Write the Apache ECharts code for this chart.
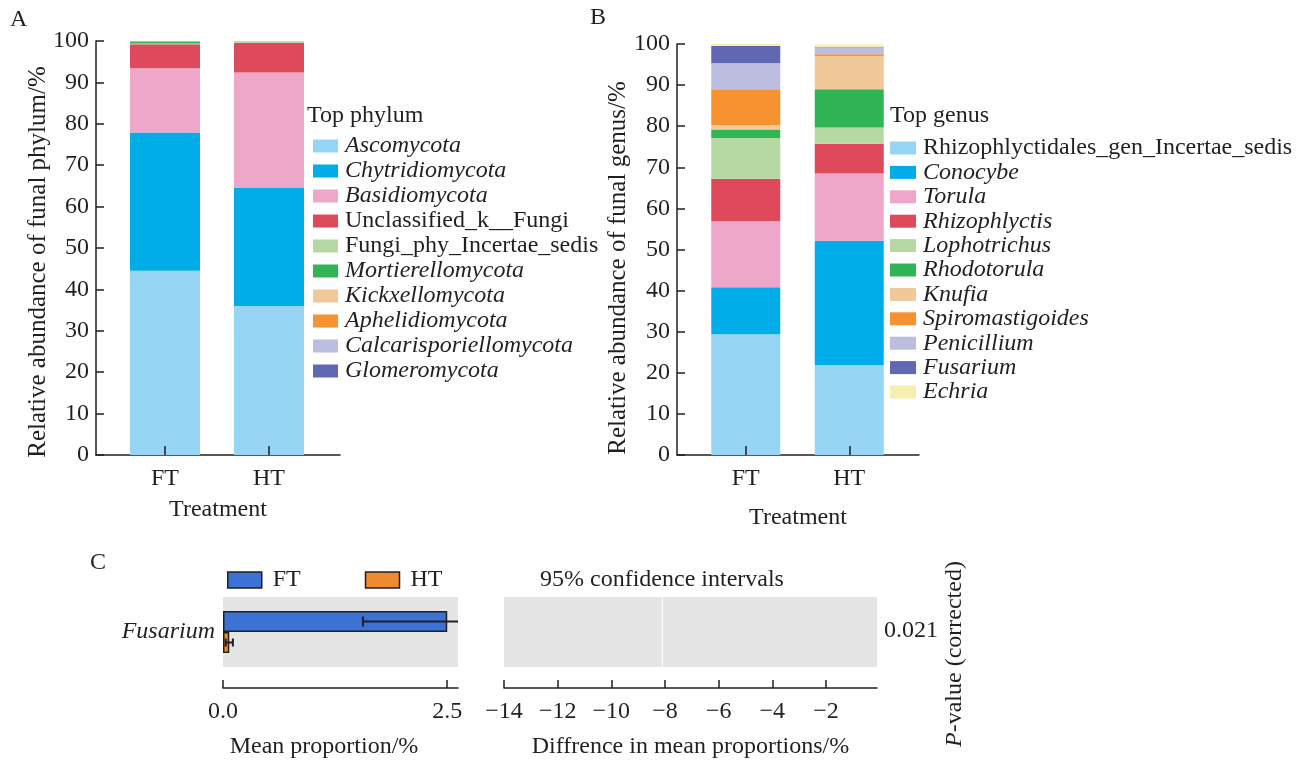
<!DOCTYPE html>
<html>
<head>
<meta charset="utf-8">
<script src="https://cdn.jsdelivr.net/npm/echarts@6/dist/echarts.min.js"></script>
<style>
  html, body { margin: 0; padding: 0; background: #fff; }
  #chart { width: 1307px; height: 762px; }
</style>
</head>
<body>
<div id="chart"></div>
<script>
// ---- data ----
const treatments = ['FT', 'HT'];

const phylumNames = ['Ascomycota', 'Chytridiomycota', 'Basidiomycota', 'Unclassified_k__Fungi',
  'Fungi_phy_Incertae_sedis', 'Mortierellomycota', 'Kickxellomycota', 'Aphelidiomycota',
  'Calcarisporiellomycota', 'Glomeromycota'];
// relative abundance (%) per phylum, [FT, HT]
const phylumAscomycota = [44.5, 36.0];
const phylumChytridiomycota = [33.4, 28.6];
const phylumBasidiomycota = [15.5, 27.8];
const phylumUnclassified = [5.8, 7.2];
const phylumFungiPhyIncertae = [0.2, 0.3];
const phylumMortierellomycota = [0.5, 0.05];
const phylumKickxellomycota = [0.05, 0.03];
const phylumAphelidiomycota = [0.02, 0.01];
const phylumCalcarisporiellomycota = [0.01, 0.01];
const phylumGlomeromycota = [0.01, 0.01];

const genusNames = ['Rhizophlyctidales_gen_Incertae_sedis', 'Conocybe', 'Torula', 'Rhizophlyctis',
  'Lophotrichus', 'Rhodotorula', 'Knufia', 'Spiromastigoides', 'Penicillium', 'Fusarium', 'Echria'];
// relative abundance (%) per genus, [FT, HT]
const genusRhizophlyctidales = [29.4, 21.9];
const genusConocybe = [11.4, 30.2];
const genusTorula = [16.1, 16.4];
const genusRhizophlyctis = [10.3, 7.2];
const genusLophotrichus = [9.9, 4.0];
const genusRhodotorula = [2.1, 9.3];
const genusKnufia = [1.1, 8.0];
const genusSpiromastigoides = [8.7, 0.5];
const genusPenicillium = [6.3, 1.7];
const genusFusarium = [4.2, 0.05];
const genusEchria = [0.5, 0.6];

const plainNames = ['Unclassified_k__Fungi', 'Fungi_phy_Incertae_sedis', 'Rhizophlyctidales_gen_Incertae_sedis'];

// differential genus test
const testGenus = ['Fusarium'];
const meanProportion = [2.5, 0.07];      // FT, HT
const meanErrLow = [1.56, 0.03];
const meanErrHigh = [3.44, 0.11];
const ciMarker = [-8.1];
const pValue = '0.021';
const abundanceTicks = [0, 10, 20, 30, 40, 50, 60, 70, 80, 90, 100];
const meanTicks = [0, 2.5];
const diffTicks = [-14, -12, -10, -8, -6, -4, -2];

// ---- styling ----
const FONT = '"Liberation Serif", "Times New Roman", serif';
const FS = 24;
const INK = '#231f20';
const phylumColors = ['#97d5f5', '#00ade8', '#eea6c9', '#de4a5c', '#b6d8a2', '#30b455', '#f0c899', '#f69330', '#bdbde0', '#6068b3'];
const genusColors = ['#97d5f5', '#00ade8', '#eea6c9', '#de4a5c', '#b6d8a2', '#30b455', '#f0c899', '#f69330', '#bdbde0', '#6068b3', '#f8eeb0'];
const phylumData = [phylumAscomycota, phylumChytridiomycota, phylumBasidiomycota, phylumUnclassified,
  phylumFungiPhyIncertae, phylumMortierellomycota, phylumKickxellomycota, phylumAphelidiomycota,
  phylumCalcarisporiellomycota, phylumGlomeromycota];
const genusData = [genusRhizophlyctidales, genusConocybe, genusTorula, genusRhizophlyctis, genusLophotrichus,
  genusRhodotorula, genusKnufia, genusSpiromastigoides, genusPenicillium, genusFusarium, genusEchria];

const txt = { fontFamily: FONT, fontSize: FS, color: INK };
const legendRich = {
  i: { fontFamily: FONT, fontSize: FS, fontStyle: 'italic', color: INK },
  n: { fontFamily: FONT, fontSize: FS, color: INK }
};
const legendFmt = name => (plainNames.includes(name) ? '{n|' + name + '}' : '{i|' + name + '}');

function frameX(grid, nameGap) {
  return {
    gridIndex: grid, type: 'value', min: 0, max: 1,
    axisLine: { show: true, lineStyle: { color: INK, width: 1.5 } },
    axisTick: { show: false }, axisLabel: { show: false }, splitLine: { show: false },
    name: 'Treatment', nameLocation: 'middle', nameGap: nameGap, nameTextStyle: txt
  };
}
function frameY(grid) {
  return {
    gridIndex: grid, type: 'value', min: 0, max: 100, interval: 10,
    axisLine: { show: true, lineStyle: { color: INK, width: 1.5 } },
    axisTick: { show: true, inside: true, length: 8, lineStyle: { color: INK, width: 1.5 },
      customValues: abundanceTicks },
    axisLabel: Object.assign({ margin: 7, customValues: abundanceTicks }, txt),
    splitLine: { show: false }
  };
}
function barX(grid) {
  return {
    gridIndex: grid, type: 'category', data: treatments, z: 5,
    axisLine: { show: false },
    axisTick: { show: true, inside: true, alignWithLabel: true, length: 9, lineStyle: { color: INK, width: 1.5 } },
    axisLabel: Object.assign({ margin: 12 }, txt)
  };
}
function hiddenY(grid) {
  return { gridIndex: grid, type: 'value', min: 0, max: 100, show: false };
}

const series = [];
phylumNames.forEach((name, k) => {
  series.push({
    name: name, type: 'bar', stack: 'phylum', xAxisIndex: 1, yAxisIndex: 1, barWidth: 70,
    itemStyle: { color: phylumColors[k] }, data: phylumData[k]
  });
});
genusNames.forEach((name, k) => {
  series.push({
    name: name, type: 'bar', stack: 'genus', xAxisIndex: 3, yAxisIndex: 3, barWidth: 69,
    itemStyle: { color: genusColors[k] }, data: genusData[k]
  });
});

const groupColors = ['#3b72d3', '#f08a30'];
treatments.forEach((g, k) => {
  series.push({
    name: g, type: 'bar', xAxisIndex: 4, yAxisIndex: 4, barWidth: 21, barGap: '0%',
    itemStyle: { color: groupColors[k], borderColor: INK, borderWidth: 1.5 },
    data: [meanProportion[k]]
  });
});

// horizontal error whiskers, one per group, clipped to the plot area
treatments.forEach((g, k) => {
  const shift = k === 0 ? -10.5 : 10.5;
  const cap = k === 0 ? 5 : 4;
  series.push({
    type: 'custom', xAxisIndex: 4, yAxisIndex: 4, z: 10,
    encode: { x: [0, 1], y: 2 },
    data: [[meanErrLow[k], meanErrHigh[k], 0]],
    renderItem: (params, api) => {
      const cs = params.coordSys;
      const y = api.coord([0, api.value(2)])[1] + shift;
      const xl = api.coord([api.value(0), 0])[0];
      const xr = api.coord([api.value(1), 0])[0];
      const right = cs.x + cs.width;
      const st = { stroke: INK, lineWidth: 2 };
      const kids = [{ type: 'line', shape: { x1: xl, y1: y, x2: Math.min(xr, right), y2: y }, style: st }];
      kids.push({ type: 'line', shape: { x1: xl, y1: y - cap, x2: xl, y2: y + cap }, style: st });
      if (xr <= right) kids.push({ type: 'line', shape: { x1: xr, y1: y - cap, x2: xr, y2: y + cap }, style: st });
      return { type: 'group', children: kids };
    }
  });
});

// vertical marker inside the confidence-interval panel
series.push({
  type: 'custom', xAxisIndex: 5, yAxisIndex: 5,
  encode: { x: 0 },
  data: ciMarker.map(v => [v]),
  renderItem: (params, api) => {
    const cs = params.coordSys;
    const x = api.coord([api.value(0), 0])[0];
    return { type: 'line', shape: { x1: x, y1: cs.y, x2: x, y2: cs.y + cs.height },
      style: { stroke: '#ffffff', lineWidth: 1 } };
  }
});

const minusFmt = v => String(v).replace('-', '\u2212');
const plainFont = FS + 'px ' + FONT;

const option = {
  animation: false,
  backgroundColor: '#ffffff',
  grid: [
    { left: 96, top: 41, width: 244, height: 414 },
    { left: 113, top: 41, width: 208, height: 414 },
    { left: 677, top: 44, width: 242, height: 411 },
    { left: 694, top: 44, width: 207, height: 411 },
    { left: 223, top: 597, width: 235, height: 70, show: true, backgroundColor: '#e5e5e5', borderWidth: 0 },
    { left: 504, top: 597, width: 373, height: 70, show: true, backgroundColor: '#e5e5e5', borderWidth: 0 }
  ],
  xAxis: [
    frameX(0, 43),
    barX(1),
    frameX(2, 51),
    barX(3),
    {
      gridIndex: 4, type: 'value', min: 0, max: 2.62, offset: 21,
      axisLine: { show: true, lineStyle: { color: INK, width: 1.5 } },
      axisTick: { show: true, inside: true, length: 8, lineStyle: { color: INK, width: 1.5 }, customValues: meanTicks },
      axisLabel: Object.assign({ margin: 12, customValues: meanTicks, formatter: v => v.toFixed(1) }, txt),
      splitLine: { show: false }
    },
    {
      gridIndex: 5, type: 'value', min: -14, max: -0.1, offset: 21,
      axisLine: { show: true, lineStyle: { color: INK, width: 1.5 } },
      axisTick: { show: true, inside: true, length: 8, lineStyle: { color: INK, width: 1.5 }, customValues: diffTicks },
      axisLabel: Object.assign({ margin: 12, customValues: diffTicks, formatter: minusFmt }, txt),
      splitLine: { show: false },
      name: 'Diffrence in mean proportions/%', nameLocation: 'middle', nameGap: 47, nameTextStyle: txt
    }
  ],
  yAxis: [
    frameY(0),
    hiddenY(1),
    frameY(2),
    hiddenY(3),
    {
      gridIndex: 4, type: 'category', data: testGenus,
      axisLine: { show: false }, axisTick: { show: false },
      axisLabel: Object.assign({ margin: 8, fontStyle: 'italic' }, txt)
    },
    { gridIndex: 5, type: 'category', data: testGenus, show: false }
  ],
  legend: [
    {
      data: phylumNames, orient: 'vertical', left: 313, top: 134, padding: 0,
      itemWidth: 25, itemHeight: 13, itemGap: 1, icon: 'rect', selectedMode: false,
      formatter: legendFmt, textStyle: { fontFamily: FONT, fontSize: FS, color: INK, rich: legendRich, padding: [0, 0, 0, 2] }
    },
    {
      data: genusNames, orient: 'vertical', left: 890, top: 136, padding: 0,
      itemWidth: 26, itemHeight: 13, itemGap: 0.4, icon: 'rect', selectedMode: false,
      formatter: legendFmt, textStyle: { fontFamily: FONT, fontSize: FS, color: INK, rich: legendRich, padding: [0, 0, 0, 2] }
    },
    {
      data: treatments, orient: 'horizontal', left: 227, top: 568, padding: 0,
      itemWidth: 34, itemHeight: 16, itemGap: 64, icon: 'rect', selectedMode: false,
      itemStyle: { borderColor: INK, borderWidth: 1.5 },
      textStyle: { fontFamily: FONT, fontSize: FS, color: INK, padding: [0, 0, 0, 6] }
    }
  ],
  graphic: [
    { type: 'text', x: 10, y: 20, style: { text: 'A', font: plainFont, fill: INK, verticalAlign: 'middle' } },
    { type: 'text', x: 590, y: 18, style: { text: 'B', font: plainFont, fill: INK, verticalAlign: 'middle' } },
    { type: 'text', x: 90, y: 563, style: { text: 'C', font: plainFont, fill: INK, verticalAlign: 'middle' } },
    { type: 'text', x: 307, y: 116, style: { text: 'Top phylum', font: plainFont, fill: INK, verticalAlign: 'middle' } },
    { type: 'text', x: 890, y: 116, style: { text: 'Top genus', font: plainFont, fill: INK, verticalAlign: 'middle' } },
    // rotated axis titles of the two stacked panels
    { type: 'text', x: 38, y: 262, rotation: Math.PI / 2,
      style: { text: 'Relative abundance of funal phylum/%', font: '25px ' + FONT, fill: INK, align: 'center', verticalAlign: 'middle' } },
    { type: 'text', x: 618, y: 268, rotation: Math.PI / 2,
      style: { text: 'Relative abundance of funal genus/%', font: '25px ' + FONT, fill: INK, align: 'center', verticalAlign: 'middle' } },
    { type: 'text', x: 324, y: 747, style: { text: 'Mean proportion/%', font: plainFont, fill: INK, align: 'center', verticalAlign: 'middle' } },
    { type: 'text', x: 662, y: 580, style: { text: '95% confidence intervals', font: plainFont, fill: INK, align: 'center', verticalAlign: 'middle' } },
    { type: 'text', x: 884, y: 631, style: { text: pValue, font: plainFont, fill: INK, verticalAlign: 'middle' } },
    {
      type: 'text', x: 955, y: 654, rotation: Math.PI / 2,
      style: {
        text: '{i|P}{n|-value (corrected)}', align: 'center', verticalAlign: 'middle',
        rich: {
          i: { fontFamily: FONT, fontSize: FS, fontStyle: 'italic', fill: INK },
          n: { fontFamily: FONT, fontSize: FS, fill: INK }
        }
      }
    }
  ],
  series: series
};

const chart = echarts.init(document.getElementById('chart'), null, { renderer: 'canvas' });
chart.setOption(option);
</script>
</body>
</html>
